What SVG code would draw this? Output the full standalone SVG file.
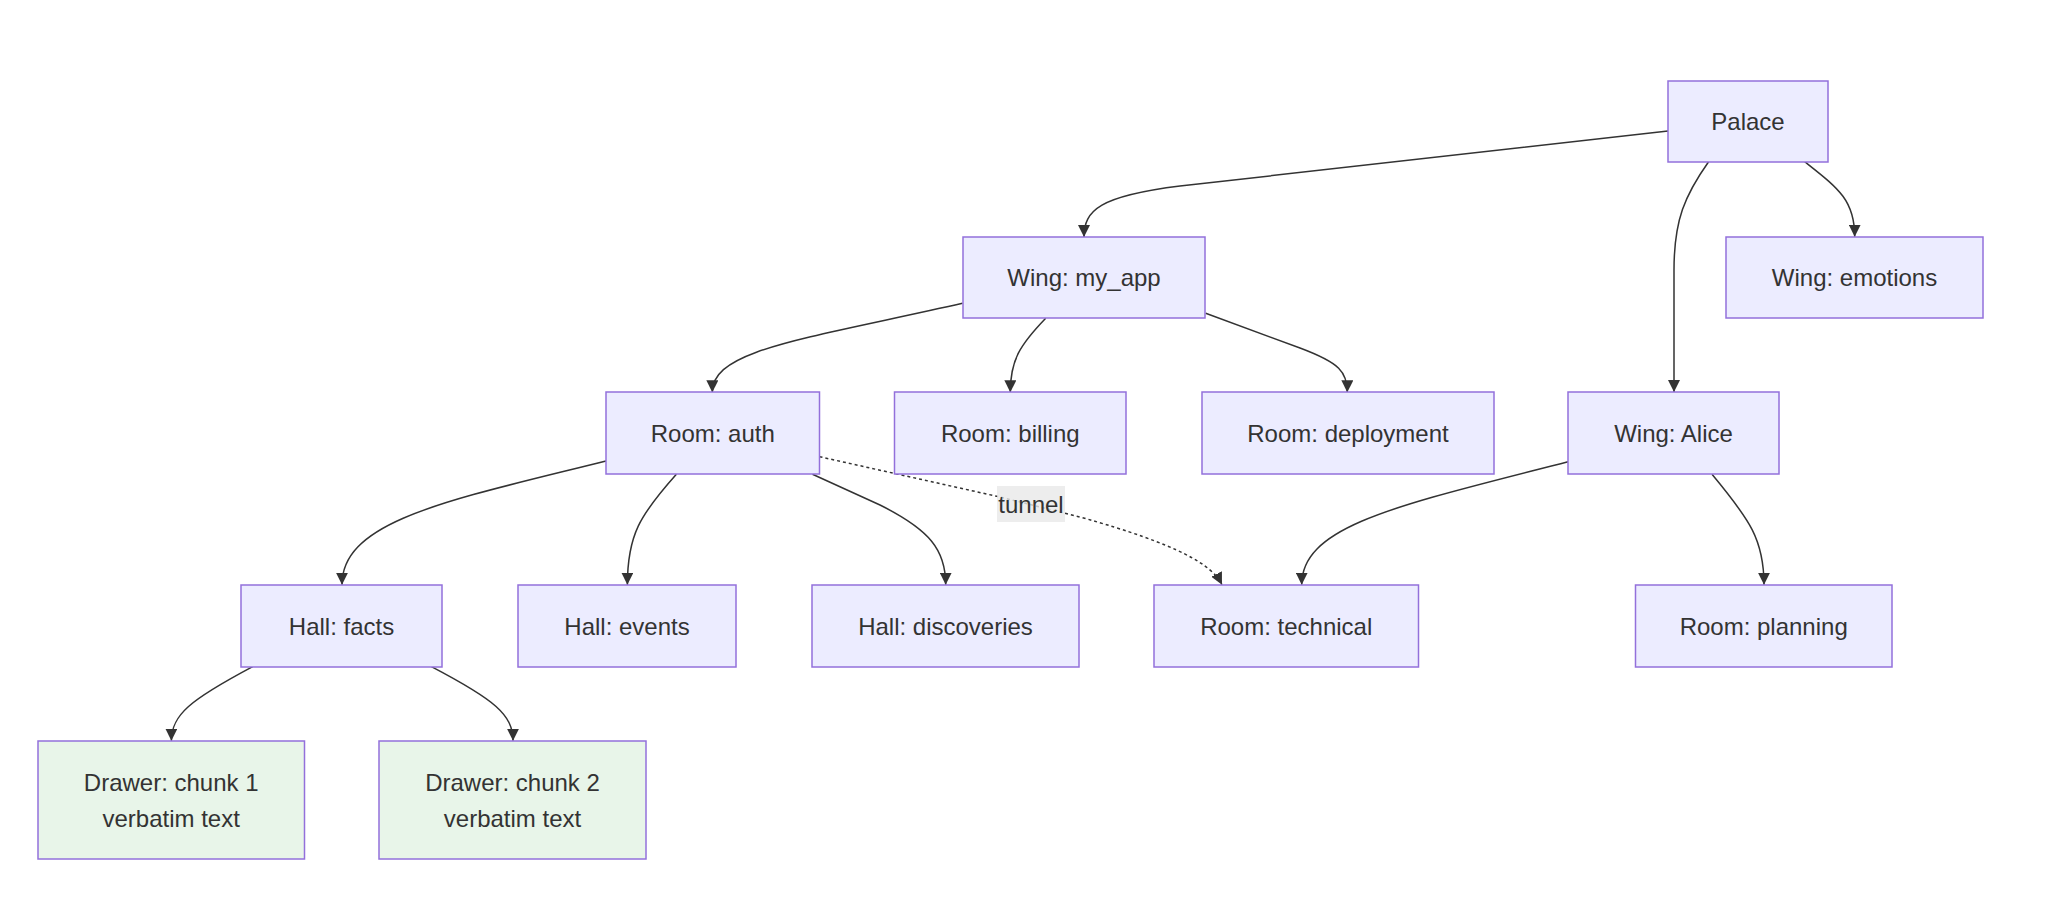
<svg xmlns="http://www.w3.org/2000/svg" width="2048" height="920" viewBox="0 0 2048 920">
<style>
.node rect{fill:#ECECFF;stroke:#9370DB;stroke-width:1.5}
.node.drawer rect{fill:#E8F5E9}
.node text,.lbl text{font-family:"Liberation Sans",Arial,sans-serif;font-size:24px;fill:#333;text-anchor:middle;dominant-baseline:central}
.edge{fill:none;stroke:#333;stroke-width:1.5}
.dotted{stroke-dasharray:3 3}
</style>
<defs>
<marker id="arrow" viewBox="0 0 10 10" refX="10" refY="5" markerUnits="userSpaceOnUse" markerWidth="12" markerHeight="12" orient="auto">
<path d="M0,0 L10,5 L0,10 z" fill="#333"/>
</marker>
</defs>
<rect width="2048" height="920" fill="#fff"/>
<g id="connectors">
<path class="edge" marker-end="url(#arrow)" d="M1668,131 L1180,186 C1100,196 1084,210 1084,237"/>
<path class="edge" marker-end="url(#arrow)" d="M1708.6,161.7 C1685,195 1674,220 1674,270 L1674,392"/>
<path class="edge" marker-end="url(#arrow)" d="M1804.7,161.7 C1838,188 1854.7,200 1854.7,236.7"/>
<path class="edge" marker-end="url(#arrow)" d="M962.5,303.3 C800,340 712.3,350 712.3,392.3"/>
<path class="edge" marker-end="url(#arrow)" d="M1045.7,318.3 C1020,345 1010.3,360 1010.3,392.3"/>
<path class="edge" marker-end="url(#arrow)" d="M1205.7,313.3 L1300,348 C1340,363 1347.3,372 1347.3,392.3"/>
<path class="edge" marker-end="url(#arrow)" d="M606,461 C450,500 342,520 342,584.7"/>
<path class="edge" marker-end="url(#arrow)" d="M676.4,474.3 C640,515 627.4,535 627.4,584.7"/>
<path class="edge" marker-end="url(#arrow)" d="M812.5,474.3 L880,505 C930,530 945.7,550 945.7,584.7"/>
<path class="edge dotted" marker-end="url(#arrow)" d="M819.5,456.7 L1000,497 L1080,517 C1180,545 1212,565 1222,584.7"/>
<path class="edge" marker-end="url(#arrow)" d="M1568,461.7 C1400,505 1301.7,525 1301.7,584.7"/>
<path class="edge" marker-end="url(#arrow)" d="M1712,474.3 C1750,520 1764,540 1764,584.7"/>
<path class="edge" marker-end="url(#arrow)" d="M252.7,666.7 C190,700 171.4,715 171.4,740.7"/>
<path class="edge" marker-end="url(#arrow)" d="M431.4,666.7 C495,700 513,715 513,740.7"/>
<g class="lbl" id="label-tunnel">
<rect x="997" y="486" width="68" height="36" fill="rgba(232,232,232,0.8)"/>
<text x="1031" y="504">tunnel</text>
</g>
</g>
<g id="palace" class="node"><rect x="1668" y="81" width="160" height="81"/><text x="1748" y="121.5">Palace</text></g>
<g id="wing-myapp" class="node"><rect x="963" y="237" width="242" height="81"/><text x="1084" y="277.5">Wing: my_app</text></g>
<g id="wing-emotions" class="node"><rect x="1726" y="237" width="257" height="81"/><text x="1854.5" y="277.5">Wing: emotions</text></g>
<g id="room-auth" class="node"><rect x="606" y="392" width="213.5" height="82"/><text x="712.8" y="433">Room: auth</text></g>
<g id="room-billing" class="node"><rect x="894.5" y="392" width="231.5" height="82"/><text x="1010.3" y="433">Room: billing</text></g>
<g id="room-deployment" class="node"><rect x="1202" y="392" width="292" height="82"/><text x="1348" y="433">Room: deployment</text></g>
<g id="wing-alice" class="node"><rect x="1568" y="392" width="211" height="82"/><text x="1673.5" y="433">Wing: Alice</text></g>
<g id="hall-facts" class="node"><rect x="241" y="585" width="201" height="82"/><text x="341.5" y="626">Hall: facts</text></g>
<g id="hall-events" class="node"><rect x="518" y="585" width="218" height="82"/><text x="627" y="626">Hall: events</text></g>
<g id="hall-discoveries" class="node"><rect x="812" y="585" width="267" height="82"/><text x="945.5" y="626">Hall: discoveries</text></g>
<g id="room-technical" class="node"><rect x="1154" y="585" width="264.5" height="82"/><text x="1286.2" y="626">Room: technical</text></g>
<g id="room-planning" class="node"><rect x="1635.5" y="585" width="256.5" height="82"/><text x="1763.7" y="626">Room: planning</text></g>
<g id="drawer-1" class="node drawer"><rect x="38" y="741" width="266.5" height="118"/><text x="171.2" y="782">Drawer: chunk 1</text><text x="171.2" y="818">verbatim text</text></g>
<g id="drawer-2" class="node drawer"><rect x="379" y="741" width="267" height="118"/><text x="512.5" y="782">Drawer: chunk 2</text><text x="512.5" y="818">verbatim text</text></g>
</svg>
